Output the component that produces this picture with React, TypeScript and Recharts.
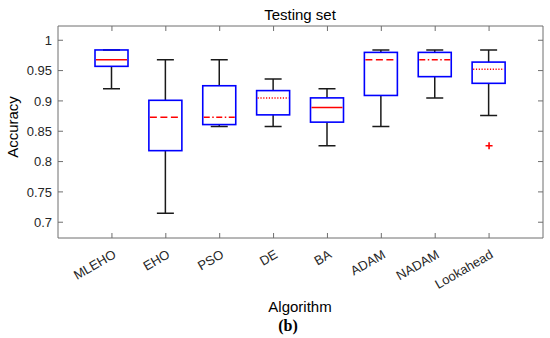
import { ComposedChart, Bar, Scatter, XAxis, YAxis } from 'recharts';

const algorithms = ['MLEHO', 'EHO', 'PSO', 'DE', 'BA', 'ADAM', 'NADAM', 'Lookahead'];
const whiskerLow = [0.92, 0.715, 0.858, 0.858, 0.826, 0.858, 0.905, 0.876];
const q1 = [0.957, 0.818, 0.861, 0.877, 0.865, 0.909, 0.94, 0.929];
const medians = [0.968, 0.873, 0.873, 0.905, 0.889, 0.968, 0.968, 0.952];
const q3 = [0.984, 0.901, 0.925, 0.917, 0.905, 0.98, 0.98, 0.964];
const whiskerHigh = [0.984, 0.968, 0.968, 0.936, 0.92, 0.984, 0.984, 0.984];
const medianStyles = ['solid', 'dashed', 'dashdot', 'dotted', 'solid', 'dashed', 'dashdot', 'dotted'];
const outliers: (number | null)[] = [null, null, null, null, null, null, null, 0.826];
const yTicks = [0.7, 0.75, 0.8, 0.85, 0.9, 0.95, 1];

const AXIS_COLOR = '#6e6e6e';
const TEXT_COLOR = '#262626';
const FONT = '"Liberation Sans", Arial, sans-serif';

const DASH: Record<string, string | undefined> = {
  solid: undefined,
  dashed: '7 3.5',
  dashdot: '6 2.5 1.5 2.5',
  dotted: '1.2 1.6',
};

const data = algorithms.map((name, i) => ({
  name,
  range: [whiskerLow[i], whiskerHigh[i]],
  low: whiskerLow[i],
  q1: q1[i],
  median: medians[i],
  q3: q3[i],
  high: whiskerHigh[i],
  style: medianStyles[i],
  outlier: outliers[i],
}));

// draws box + whiskers inside the pixel range recharts gives for [low, high]
function BoxShape(props: any) {
  const { x, y, width, height, payload } = props;
  if (!payload || width == null) return null;
  const top = Math.min(y, y + height);
  const bottom = Math.max(y, y + height);
  const { low, high } = payload;
  const toY = (v: number) => top + ((high - v) / (high - low)) * (bottom - top);
  const cx = x + width / 2;
  const capHalf = 8.5;
  const yQ1 = toY(payload.q1);
  const yQ3 = toY(payload.q3);
  const yMed = toY(payload.median);
  return (
    <g>
      <line x1={cx} x2={cx} y1={top} y2={yQ3} stroke="#1a1a1a" strokeWidth={1.5} />
      <line x1={cx} x2={cx} y1={yQ1} y2={bottom} stroke="#1a1a1a" strokeWidth={1.5} />
      <line x1={cx - capHalf} x2={cx + capHalf} y1={top} y2={top} stroke="#1a1a1a" strokeWidth={1.5} />
      <line x1={cx - capHalf} x2={cx + capHalf} y1={bottom} y2={bottom} stroke="#1a1a1a" strokeWidth={1.5} />
      <rect x={x} y={yQ3} width={width} height={yQ1 - yQ3} fill="none" stroke="#0000ff" strokeWidth={1.6} />
      <line
        x1={x + 1}
        x2={x + width - 1}
        y1={yMed}
        y2={yMed}
        stroke="#ff0000"
        strokeWidth={1.5}
        strokeDasharray={DASH[payload.style]}
      />
    </g>
  );
}

function PlusShape(props: any) {
  const { cx, cy, payload } = props;
  if (!payload || payload.outlier == null || cx == null || cy == null) return null;
  return (
    <g stroke="#ff0000" strokeWidth={1.6}>
      <line x1={cx - 3.5} x2={cx + 3.5} y1={cy} y2={cy} />
      <line x1={cx} x2={cx} y1={cy - 3.5} y2={cy + 3.5} />
    </g>
  );
}

function RotatedTick(props: any) {
  const { x, y, payload } = props;
  const ax = x + 5;
  const ay = y + 19;
  return (
    <text
      x={ax}
      y={ay}
      transform={`rotate(-30, ${ax}, ${ay})`}
      textAnchor="end"
      fontSize={13}
      fontFamily={FONT}
      fill={TEXT_COLOR}
    >
      {payload.value}
    </text>
  );
}

export default function App() {
  return (
    <div style={{ position: 'absolute', left: 0, top: 0, width: 550, height: 338, background: '#fff' }}>
      <ComposedChart width={550} height={338} data={data} margin={{ top: 25, right: 6, left: 8, bottom: 40 }}>
        <XAxis
          xAxisId="bottom"
          dataKey="name"
          padding={{ left: 27, right: 27 }}
          interval={0}
          height={60}
          tickSize={-5}
          tickMargin={5}
          stroke={AXIS_COLOR}
          tick={<RotatedTick />}
        />
        <XAxis
          xAxisId="top"
          orientation="top"
          dataKey="name"
          padding={{ left: 27, right: 27 }}
          interval={0}
          height={1}
          tickSize={-5}
          stroke={AXIS_COLOR}
          tickFormatter={() => ''}
        />
        <YAxis
          yAxisId="left"
          type="number"
          domain={[0.674, 1.0235]}
          ticks={yTicks}
          allowDataOverflow
          width={50}
          tickSize={-5}
          tickMargin={11}
          stroke={AXIS_COLOR}
          tick={{ fontSize: 13, fontFamily: FONT, fill: TEXT_COLOR }}
        />
        <YAxis
          yAxisId="right"
          orientation="right"
          type="number"
          domain={[0.674, 1.0235]}
          ticks={yTicks}
          allowDataOverflow
          width={1}
          tickSize={-5}
          stroke={AXIS_COLOR}
          tickFormatter={() => ''}
        />
        <Bar
          xAxisId="bottom"
          yAxisId="left"
          dataKey="range"
          barSize={33}
          shape={<BoxShape />}
          isAnimationActive={false}
        />
        <Scatter
          xAxisId="bottom"
          yAxisId="left"
          dataKey="outlier"
          shape={<PlusShape />}
          isAnimationActive={false}
        />
        <text x={300} y={20} textAnchor="middle" fontSize={15} fontFamily={FONT} fill="#000">
          Testing set
        </text>
        <text
          transform="translate(18, 127) rotate(-90)"
          textAnchor="middle"
          fontSize={15}
          fontFamily={FONT}
          fill="#000"
        >
          Accuracy
        </text>
        <text x={300} y={312} textAnchor="middle" fontSize={15} fontFamily={FONT} fill="#000">
          Algorithm
        </text>
        <text
          x={288}
          y={331}
          textAnchor="middle"
          fontSize={16}
          fontWeight="bold"
          fontFamily='"Liberation Serif", "Times New Roman", serif'
          fill="#000"
        >
          (b)
        </text>
      </ComposedChart>
    </div>
  );
}
